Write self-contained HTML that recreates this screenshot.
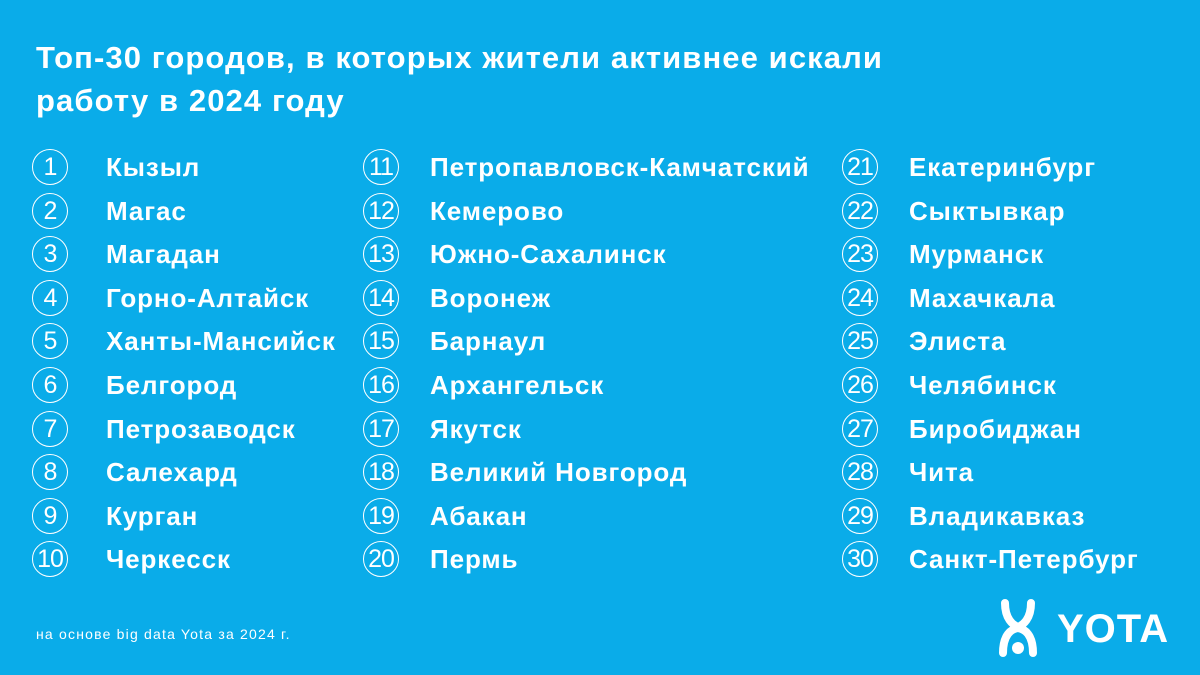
<!DOCTYPE html>
<html><head><meta charset="utf-8"><style>
body{margin:0;width:1200px;height:675px;background:#0aace9;overflow:hidden;font-family:"Liberation Sans","DejaVu Sans",sans-serif;color:#fff;position:relative}
h1{position:absolute;left:36px;top:36px;margin:0;font-size:31px;line-height:43px;font-weight:bold;letter-spacing:1.1px}
.r{position:absolute;height:36px;font-size:26px;font-weight:bold;line-height:36px;white-space:nowrap;letter-spacing:0.9px}
.c{position:absolute;width:34px;height:34px;border:1.3px solid #fff;border-radius:50%;text-align:center;font-size:25px;line-height:34px;font-weight:normal;letter-spacing:-1px}
.t{position:absolute;left:72px;top:0}
.foot{position:absolute;left:36px;top:626px;font-size:14px;letter-spacing:1.2px}
</style></head><body>
<h1>Топ-30 городов, в которых жители активнее искали<br>работу в 2024 году</h1>
<div id="g"></div>
<div class="foot">на основе big data Yota за 2024 г.</div>
<svg style="position:absolute;left:995px;top:595px" width="200" height="65" viewBox="0 0 200 65">
<g fill="none" stroke="#fff" stroke-width="8" stroke-linecap="round">
<path d="M10 8 C10 24 18 30 23 32 C28 30 36 24 36 8"/>
<path d="M8 58 C8 40 16 34 23 33 C30 34 38 40 38 58"/>
</g>
<circle cx="23" cy="53" r="6" fill="#fff"/>
<text x="62" y="47" font-size="40" font-weight="bold" fill="#fff" letter-spacing="1" font-family="Liberation Sans,sans-serif">YOTA</text>
</svg>
<script>
var n=["Кызыл","Магас","Магадан","Горно-Алтайск","Ханты-Мансийск","Белгород","Петрозаводск","Салехард","Курган","Черкесск","Петропавловск-Камчатский","Кемерово","Южно-Сахалинск","Воронеж","Барнаул","Архангельск","Якутск","Великий Новгород","Абакан","Пермь","Екатеринбург","Сыктывкар","Мурманск","Махачкала","Элиста","Челябинск","Биробиджан","Чита","Владикавказ","Санкт-Петербург"];
var xs=[32,363,842],h="";
for(var i=0;i<30;i++){var c=Math.floor(i/10),k=i%10;
h+='<div class="r" style="left:'+xs[c]+'px;top:'+(149+k*43.6)+'px"><div class="c">'+(i+1)+'</div><div class="t" style="left:'+(c==0?74:67)+'px">'+n[i]+'</div></div>';}
document.getElementById("g").innerHTML=h;
</script>
</body></html>
